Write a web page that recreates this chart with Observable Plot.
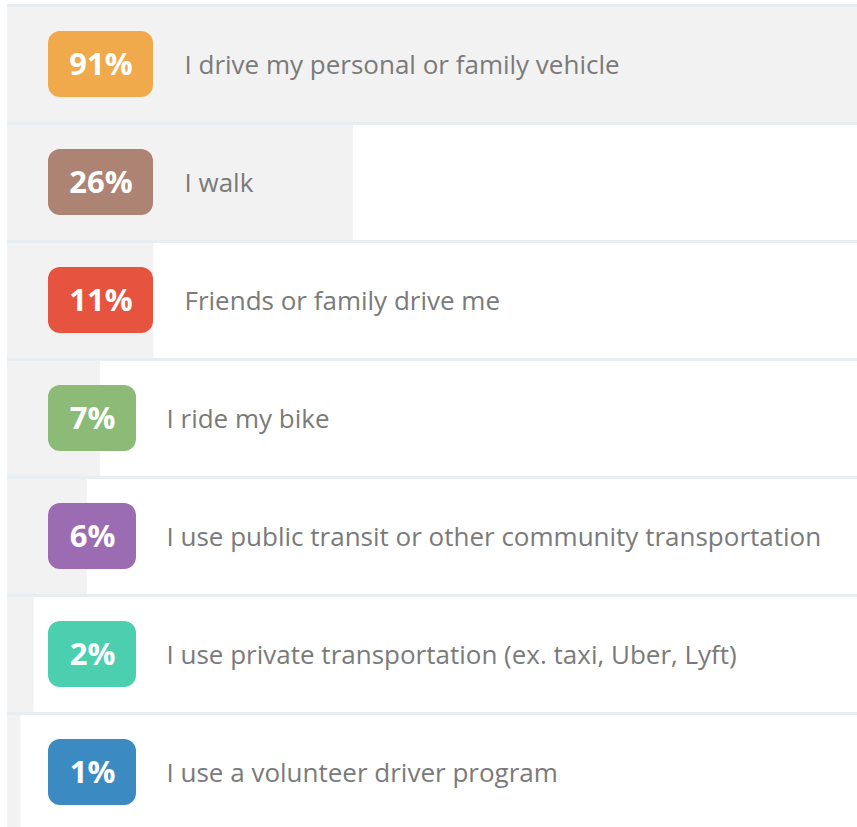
<!DOCTYPE html>
<html>
<head>
<meta charset="utf-8">
<script src="https://cdn.jsdelivr.net/npm/d3@7"></script>
<script src="https://cdn.jsdelivr.net/npm/@observablehq/plot@0.6"></script>
<style>
  html, body { margin: 0; padding: 0; background: #fff; overflow: hidden; }
  #chart svg { display: block; overflow: hidden; }
</style>
</head>
<body>
<div id="chart"></div>
<script>
const labels = [
  "I drive my personal or family vehicle",
  "I walk",
  "Friends or family drive me",
  "I ride my bike",
  "I use public transit or other community transportation",
  "I use private transportation (ex. taxi, Uber, Lyft)",
  "I use a volunteer driver program"
];
const values = [91, 26, 11, 7, 6, 2, 1];
const colors = ["#f0a94b", "#ad8373", "#e6533f", "#8cbb78", "#9b6cb1", "#4bcfaf", "#3b8bc2"];

const data = labels.map((label, i) => ({label, value: values[i], color: colors[i], pct: values[i] + "%"}));
const wide = data.filter(d => d.pct.length >= 3);
const narrow = data.filter(d => d.pct.length < 3);

const badge = (subset, w, labelDx) => [
  Plot.barX(subset, {
    x1: () => 0, x2: () => 0, y: "label", fill: "color",
    dx: 41, insetLeft: 0, insetRight: -w, insetTop: 26, insetBottom: 26, rx: 12
  }),
  Plot.text(subset, {
    x: () => 0, y: "label", text: "pct", dx: 41 + w / 2, textAnchor: "middle",
    fill: "white", fontSize: 31, fontWeight: "bold", fontFamily: "Open Sans", dy: 1
  }),
  Plot.text(subset, {
    x: () => 0, y: "label", text: "label", dx: labelDx, textAnchor: "start",
    fill: "#7a7a7a", fontSize: 26, fontFamily: "Open Sans", dy: 1
  })
];

const chart = Plot.plot({
  width: 857,
  height: 827,
  margin: 0,
  style: {background: "white", fontFamily: "Open Sans"},
  x: {domain: [0, 100], range: [7, 1337], axis: null},
  y: {domain: labels, range: [5, 831], padding: 0, axis: null},
  marks: [
    Plot.barX(data, {x1: () => 0, x2: "value", y: "label", fill: "#f2f2f2", inset: 0}),
    Plot.barX(data, {x1: () => 0, x2: () => 100, y: "label", fill: "#e8edf2", insetTop: -1, insetBottom: 116, insetLeft: 0, insetRight: 0}),
    ...badge(wide, 105, 177),
    ...badge(narrow, 88, 159)
  ]
});
document.getElementById("chart").appendChild(chart);
</script>
</body>
</html>
